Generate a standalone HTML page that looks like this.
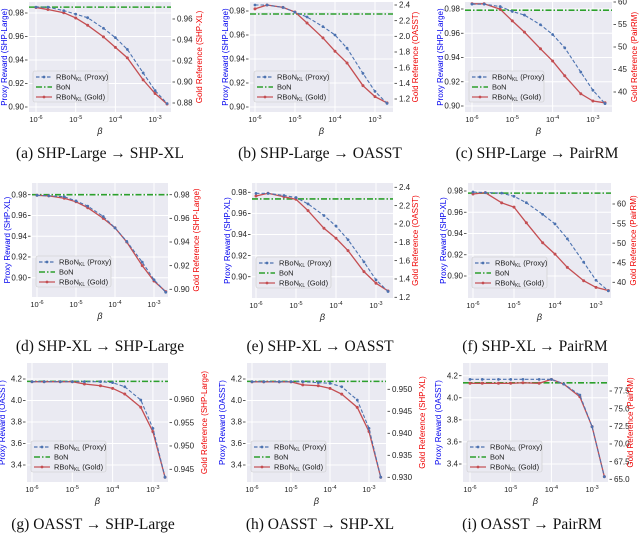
<!DOCTYPE html>
<html><head><meta charset="utf-8"><style>
body{margin:0;background:#fff;}
svg{display:block;font-family:"Liberation Sans",sans-serif;}
.cap{font-family:"Liberation Serif",serif;font-size:15.5px;fill:#111;}
</style></head><body>
<svg id="chart" width="640" height="537" viewBox="0 0 640 537" xmlns="http://www.w3.org/2000/svg"></svg>
<script>
const betas = [1e-6,2e-6,5e-6,1e-5,2e-5,5e-5,1e-4,2e-4,5e-4,1e-3,2e-3];
const xTickExps = [-6,-5,-4,-3];
const proxyA=[0.985,0.985,0.982,0.979,0.976,0.967,0.959,0.949,0.929,0.914,0.903];
const goldA=[0.971,0.969,0.966,0.961,0.954,0.943,0.933,0.923,0.902,0.889,0.879];
const bonA=0.985;
const proxyB=[0.985,0.985,0.983,0.979,0.975,0.967,0.960,0.949,0.928,0.913,0.903];
const goldB=[2.35,2.40,2.37,2.31,2.17,1.98,1.81,1.66,1.37,1.23,1.15];
const bonB=0.9775;
const proxyC=[0.984,0.984,0.982,0.978,0.975,0.967,0.959,0.948,0.928,0.913,0.902];
const goldC=[59.6,59.6,58.4,55.8,53.3,49.6,46.9,43.6,39.6,38.0,37.6];
const bonC=0.979;
const proxyD=[0.9794,0.979,0.978,0.974,0.969,0.959,0.948,0.935,0.915,0.898,0.886];
const goldD=[0.9795,0.979,0.977,0.974,0.969,0.960,0.952,0.940,0.920,0.907,0.898];
const bonD=0.98;
const proxyE=[0.979,0.979,0.977,0.975,0.969,0.958,0.948,0.935,0.914,0.897,0.886];
const goldE=[2.305,2.335,2.297,2.269,2.145,1.953,1.844,1.709,1.48,1.353,1.269];
const bonE=0.9737;
const proxyF=[0.979,0.9785,0.978,0.975,0.969,0.958,0.949,0.935,0.913,0.896,0.886];
const goldF=[62.55,62.9,60.3,59.2,55.2,50.1,47.2,43.8,40.4,38.7,37.9];
const bonF=0.978;
const proxyG=[4.175,4.175,4.175,4.175,4.175,4.175,4.166,4.128,4.005,3.741,3.286];
const goldG=[0.96377,0.96377,0.96377,0.96377,0.96328,0.96291,0.96235,0.96113,0.95829,0.95306,0.94329];
const bonG=4.178;
const proxyH=[4.175,4.175,4.175,4.175,4.175,4.166,4.16,4.128,4.005,3.741,3.286];
const goldH=[0.9517,0.9517,0.9517,0.9517,0.9510,0.9508,0.9502,0.9489,0.9459,0.9404,0.9300];
const bonH=4.178;
const proxyI=[4.167,4.167,4.167,4.167,4.167,4.167,4.167,4.125,4.025,3.738,3.285];
const goldI=[78.59,78.59,78.59,78.59,78.67,78.59,79.15,78.49,76.69,72.45,65.38];
const bonI=4.136;
const ticksShp=[0.90,0.92,0.94,0.96,0.98];
const ticksA_R=[0.88,0.90,0.92,0.94,0.96];
const ticksOasst=[1.2,1.4,1.6,1.8,2.0,2.2,2.4];
const ticksPair=[40,45,50,55,60];
const ticksO=[3.4,3.6,3.8,4.0,4.2];
const ticksG_R=[0.945,0.950,0.955,0.960];
const ticksH_R=[0.930,0.935,0.940,0.945,0.950];
const ticksI_R=[65.0,67.5,70.0,72.5,75.0,77.5];

const panels=[
 {id:'a',x0:29,x1:171,y0:2,y1:112,xd:36,dec:39.7,L:[0.98,13,0.90,107],R:[0.96,19,0.88,103],p:proxyA,g:goldA,b:bonA,lt:ticksShp,rt:ticksA_R,ld:2,rd:2,ll:'Proxy Reward (SHP-Large)',rl:'Gold Reference (SHP-XL)',cap:'(a) SHP-Large \u2192 SHP-XL',cx:100,cy:158},
 {id:'b',x0:250,x1:393,y0:2,y1:112,xd:255,dec:40,L:[0.98,11,0.90,107],R:[2.4,5,1.2,99],p:proxyB,g:goldB,b:bonB,lt:ticksShp,rt:ticksOasst,ld:2,rd:1,ll:'Proxy Reward (SHP-Large)',rl:'Gold Reference (OASST)',cap:'(b) SHP-Large \u2192 OASST',cx:320,cy:158},
 {id:'c',x0:465,x1:612,y0:2,y1:112,xd:472,dec:40.3,L:[0.98,9,0.90,106],R:[60,2,40,92],p:proxyC,g:goldC,b:bonC,lt:ticksShp,rt:ticksPair,ld:2,rd:0,ll:'Proxy Reward (SHP-Large)',rl:'Gold Reference (PairRM)',cap:'(c) SHP-Large \u2192 PairRM',cx:537,cy:158},
 {id:'d',x0:32,x1:168,y0:183,y1:297,xd:37,dec:39,L:[0.98,194.7,0.90,277.7],R:[0.98,194.7,0.90,289.3],p:proxyD,g:goldD,b:bonD,lt:ticksShp,rt:ticksShp,ld:2,rd:2,ll:'Proxy Reward (SHP-XL)',rl:'Gold Reference (SHP-Large)',cap:'(d) SHP-XL \u2192 SHP-Large',cx:100,cy:351},
 {id:'e',x0:252,x1:393,y0:183,y1:298,xd:256,dec:40,L:[0.98,192.3,0.90,276.7],R:[2.4,187.3,1.2,297.3],p:proxyE,g:goldE,b:bonE,lt:ticksShp,rt:ticksOasst,ld:2,rd:1,ll:'Proxy Reward (SHP-XL)',rl:'Gold Reference (OASST)',cap:'(e) SHP-XL \u2192 OASST',cx:320,cy:351},
 {id:'f',x0:468,x1:611,y0:183,y1:298,xd:473,dec:41,L:[0.98,191,0.90,276],R:[60,204,40,282.3],p:proxyF,g:goldF,b:bonF,lt:ticksShp,rt:ticksPair,ld:2,rd:0,ll:'Proxy Reward (SHP-XL)',rl:'Gold Reference (PairRM)',cap:'(f) SHP-XL \u2192 PairRM',cx:535,cy:351},
 {id:'g',x0:27,x1:168,y0:363,y1:482,xd:32,dec:40.3,L:[4.2,379,3.4,465],R:[0.960,399.3,0.945,469.3],p:proxyG,g:goldG,b:bonG,lt:ticksO,rt:ticksG_R,ld:1,rd:3,ll:'Proxy Reward (OASST)',rl:'Gold Reference (SHP-Large)',cap:'(g) OASST \u2192 SHP-Large',cx:93,cy:529},
 {id:'h',x0:247,x1:386,y0:363,y1:482,xd:252,dec:39,L:[4.2,379,3.4,465],R:[0.950,389.3,0.930,477.3],p:proxyH,g:goldH,b:bonH,lt:ticksO,rt:ticksH_R,ld:1,rd:3,ll:'Proxy Reward (OASST)',rl:'Gold Reference (SHP-XL)',cap:'(h) OASST \u2192 SHP-XL',cx:320,cy:529},
 {id:'i',x0:463,x1:608,y0:363,y1:482,xd:470,dec:40.7,L:[4.2,375.7,3.4,464],R:[77.5,391,65.0,479.3],p:proxyI,g:goldI,b:bonI,lt:ticksO,rt:ticksI_R,ld:1,rd:1,ll:'Proxy Reward (OASST)',rl:'Gold Reference (PairRM)',cap:'(i) OASST \u2192 PairRM',cx:532,cy:529}
];
const NS='http://www.w3.org/2000/svg';
const svg=document.getElementById('chart');
function mk(tag,attrs,parent,text){const e=document.createElementNS(NS,tag);for(const k in attrs)e.setAttribute(k,attrs[k]);if(text!==undefined)e.textContent=text;parent.appendChild(e);return e;}
function lin(c){const[v1,p1,v2,p2]=c;return v=>p1+(v-v1)*(p2-p1)/(v2-v1);}
panels.forEach(P=>{
  const g=mk('g',{},svg);
  
  
  const xs=b=>P.xd+(Math.log10(b)+6)*P.dec;
  const yl=lin(P.L), yr=lin(P.R);
  const bg=mk('rect',{x:P.x0,y:P.y0,width:P.x1-P.x0,height:P.y1-P.y0,fill:'#eaeaf2'},g);
  
  
  xTickExps.forEach(e=>{
    const x=xs(Math.pow(10,e));
    mk('line',{x1:x,x2:x,y1:P.y0,y2:P.y1,stroke:'#fff','stroke-width':1},g);
    const t=mk('text',{x:x,y:P.y1+10,'font-size':7.5,'text-anchor':'middle',fill:'#222'},g);
    
    
    t.appendChild(document.createTextNode('10'));
    mk('tspan',{dy:-3,'font-size':5.5},t,String(e));
  });
  P.lt.forEach(v=>{
    const y=yl(v);
    mk('line',{x1:P.x0,x2:P.x1,y1:y,y2:y,stroke:'#fff','stroke-width':1},g);
    mk('line',{x1:P.x0-4,x2:P.x0-1.5,y1:y,y2:y,stroke:'#333','stroke-width':0.8},g);
    const t=mk('text',{x:P.x0-5,y:y+2.7,'font-size':8,'text-anchor':'end',fill:'#222'},g,v.toFixed(P.ld));
    
    
  });
  P.rt.forEach(v=>{
    const y=yr(v);
    mk('line',{x1:P.x1+1.5,x2:P.x1+4,y1:y,y2:y,stroke:'#333','stroke-width':0.8},g);
    const t=mk('text',{x:P.x1+6,y:y+2.7,'font-size':8,fill:'#222'},g,v.toFixed(P.rd));
    
    
  });
  const ym=(P.y0+P.y1)/2;
  const lx=P.x0-22;
  const t1=mk('text',{x:lx,y:ym,'font-size':8,fill:'#0000ee','text-anchor':'middle',transform:`rotate(-90 ${lx} ${ym})`},g,P.ll);
  
  
  const rx=P.x1+(P.rd===3?36:P.rd===2?28:22)+3;
  const t2=mk('text',{x:rx,y:ym,'font-size':8,fill:'#ee0000','text-anchor':'middle',transform:`rotate(-90 ${rx} ${ym})`},g,P.rl);
  
  
  const xt=mk('text',{x:(P.x0+P.x1)/2,y:P.y1+22,'font-size':9,'font-style':'italic','text-anchor':'middle',fill:'#222'},g,'\u03b2');
  
  
  const by=yl(P.b);
  const bon=mk('line',{x1:P.x0,x2:P.x1,y1:by,y2:by,stroke:'#2ca02c','stroke-width':1.6,'stroke-dasharray':'6 2 1.5 2'},g);
  
  
  const gp=P.g.map((v,i)=>xs(betas[i])+','+yr(v)).join(' ');
  const gl=mk('polyline',{points:gp,fill:'none',stroke:'#c44e52','stroke-width':1.3},g);
  
  
  P.g.forEach((v,i)=>{const c=mk('circle',{cx:xs(betas[i]),cy:yr(v),r:1.5,fill:'#c44e52'},g);
    
    });
  const pp=P.p.map((v,i)=>xs(betas[i])+','+yl(v)).join(' ');
  const pl=mk('polyline',{points:pp,fill:'none',stroke:'#4c72b0','stroke-width':1.1,'stroke-dasharray':'3.5 2'},g);
  
  
  P.p.forEach((v,i)=>{const c=mk('circle',{cx:xs(betas[i]),cy:yl(v),r:1.4,fill:'#4c72b0'},g);
    
    });
  const lg=mk('g',{},g);
  
  
  const lx0=P.x0+4, ly0=P.y1-41;
  mk('rect',{x:lx0,y:ly0,width:75,height:31,fill:'#eaeaf2',stroke:'#ccc','stroke-width':0.6,rx:2},lg);
  const rows=[['#4c72b0','3.5 2','RBoN','(Proxy)',true],['#2ca02c','6 2 1.5 2','BoN','',false],['#c44e52','','RBoN','(Gold)',true]];
  rows.forEach((r,k)=>{
    const yy=ly0+6+k*10;
    mk('line',{x1:lx0+3,x2:lx0+19,y1:yy,y2:yy,stroke:r[0],'stroke-width':r[1]==='6 2 1.5 2'?1.6:1.2,'stroke-dasharray':r[1]},lg);
    if(r[4])mk('circle',{cx:lx0+11,cy:yy,r:1.4,fill:r[0]},lg);
    const t=mk('text',{x:lx0+23,y:yy+2.6,'font-size':7.5,fill:'#222'},lg,r[2]);
    
    
    if(r[4]){mk('tspan',{dy:1.5,'font-size':5},t,'KL');mk('tspan',{dy:-1.5},t,' '+r[3]);}
  });
  const cap=mk('text',{x:P.cx,y:P.cy,'text-anchor':'middle',class:'cap'},g,P.cap);
  
  
});
</script>
</body></html>
